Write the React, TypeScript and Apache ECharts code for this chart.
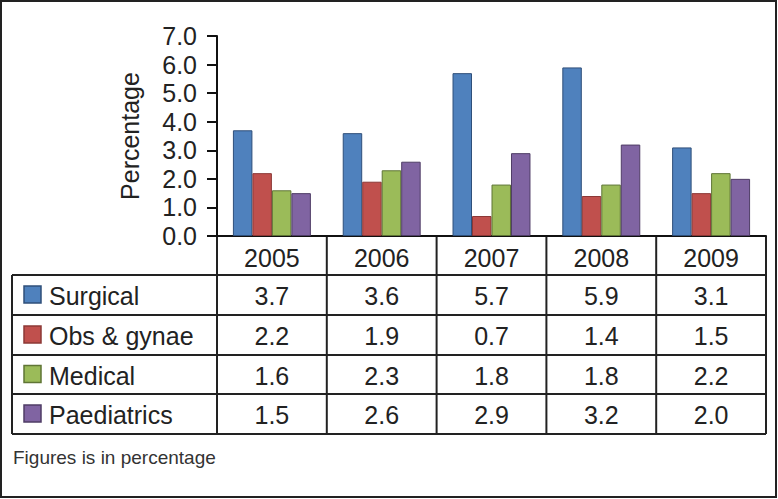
import React, { useEffect, useRef } from "react";
import * as echarts from "echarts";

const years = ["2005", "2006", "2007", "2008", "2009"];
const seriesNames = ["Surgical", "Obs & gynae", "Medical", "Paediatrics"];
const surgical = [3.7, 3.6, 5.7, 5.9, 3.1];
const obsGynae = [2.2, 1.9, 0.7, 1.4, 1.5];
const medical = [1.6, 2.3, 1.8, 1.8, 2.2];
const paediatrics = [1.5, 2.6, 2.9, 3.2, 2.0];
const yTicks = [0, 1, 2, 3, 4, 5, 6, 7];
const footnote = "Figures is in percentage";

const fills = ["#4F81BD", "#C0504D", "#9BBB59", "#8064A2"];
const strokes = ["#2F4F7A", "#8C3836", "#5F7535", "#4F3D66"];
const FONT = "'Liberation Sans', Arial, sans-serif";
const TXT = "#222";

export default function App() {
  const ref = useRef<HTMLDivElement>(null);
  useEffect(() => {
    document.body.style.margin = "0";
    const el = ref.current!;
    const chart = echarts.init(el, null, { renderer: "svg" });
    const allData = [surgical, obsGynae, medical, paediatrics];
    const gridLeft = 217, gridRight = 766, gridTop = 36, gridBottom = 236;
    chart.setOption({
      animation: false,
      backgroundColor: "#fff",
      grid: { left: gridLeft, top: gridTop, width: gridRight - gridLeft, height: gridBottom - gridTop, containLabel: false },
      xAxis: {
        type: "category",
        data: years,
        axisLine: { show: true, lineStyle: { color: "#111", width: 2 } },
        axisTick: { show: false },
        axisLabel: { fontSize: 25, color: TXT, fontFamily: FONT, margin: 9 },
      },
      yAxis: {
        type: "value",
        min: 0,
        max: 7,
        interval: 1,
        name: "Percentage",
        nameLocation: "middle",
        nameRotate: 90,
        nameGap: 75,
        nameTextStyle: { fontSize: 25, color: TXT, fontFamily: FONT },
        axisLine: { show: true, lineStyle: { color: "#111", width: 2 } },
        axisTick: { show: true, length: 10, lineStyle: { color: "#111", width: 2 } },
        axisLabel: {
          fontSize: 25,
          color: TXT,
          fontFamily: FONT,
          margin: 20,
          formatter: (v: number) => (yTicks.includes(v) ? v.toFixed(1) : ""),
        },
        splitLine: { show: false },
      },
      series: allData.map((d, i) => ({
        type: "bar",
        name: seriesNames[i],
        data: d,
        barGap: "0%",
        barCategoryGap: "29%",
        itemStyle: { color: fills[i], borderColor: strokes[i], borderWidth: 1 },
      })),
    });

    // Build data table beneath the plot
    const centers = years.map((y) => chart.convertToPixel({ xAxisIndex: 0 }, y) as number);
    const colW = (gridRight - gridLeft) / years.length;
    const tableLeft = 12;
    const rowLines = [275, 315, 355, 394, 434];
    const tableBottom = rowLines[rowLines.length - 1];
    const lineStyle = { stroke: "#222", lineWidth: 2 };
    const g: any[] = [];
    // outer border
    g.push({ type: "rect", shape: { x: 1, y: 1, width: 775, height: 496 }, style: { fill: "none", stroke: "#222", lineWidth: 2 }, silent: true });
    rowLines.forEach((y) => g.push({ type: "line", shape: { x1: tableLeft, y1: y, x2: gridRight, y2: y }, style: lineStyle }));
    for (let k = 0; k <= years.length; k++) {
      const x = gridLeft + k * colW;
      g.push({ type: "line", shape: { x1: x, y1: gridBottom, x2: x, y2: tableBottom }, style: lineStyle });
    }
    g.push({ type: "line", shape: { x1: tableLeft, y1: rowLines[0], x2: tableLeft, y2: tableBottom }, style: lineStyle });
    allData.forEach((d, i) => {
      const cy = (rowLines[i] + rowLines[i + 1]) / 2;
      g.push({ type: "rect", shape: { x: 24, y: cy - 9, width: 17, height: 17 }, style: { fill: fills[i], stroke: strokes[i], lineWidth: 1.5 } });
      g.push({ type: "text", x: 49, y: cy + 1, style: { text: seriesNames[i], fontSize: 25, fontFamily: FONT, fill: TXT, verticalAlign: "middle", align: "left" } });
      d.forEach((v, j) => {
        g.push({ type: "text", x: centers[j], y: cy + 1, style: { text: v.toFixed(1), fontSize: 25, fontFamily: FONT, fill: TXT, verticalAlign: "middle", align: "center" } });
      });
    });
    g.push({ type: "text", x: 13, y: 457, style: { text: footnote, fontSize: 19, fontFamily: FONT, fill: "#333", verticalAlign: "middle", align: "left" } });
    chart.setOption({ graphic: g });
    return () => chart.dispose();
  }, []);
  return <div ref={ref} style={{ width: 778, height: 499 }} />;
}
